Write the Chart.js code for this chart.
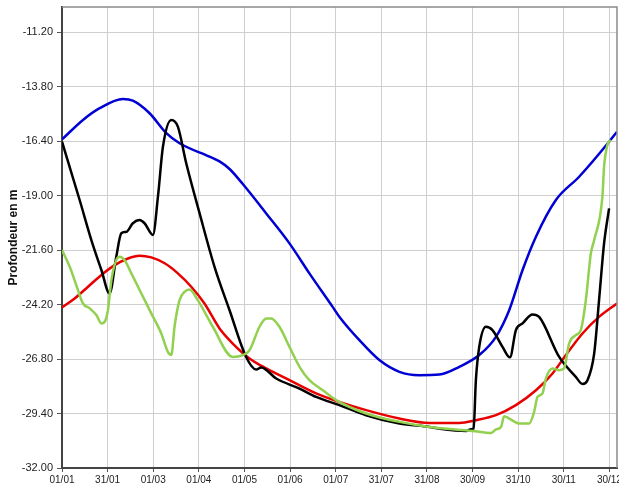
<!DOCTYPE html>
<html>
<head>
<meta charset="utf-8">
<script src="https://cdn.jsdelivr.net/npm/chart.js@4.4.0/dist/chart.umd.min.js"></script>
<style>
  body { margin: 0; background: #fff; }
  #wrap { width: 619px; height: 485px; }
</style>
</head>
<body>
<div id="wrap"><canvas id="lineChart"></canvas></div>
<script>
Chart.defaults.font.family = "'Liberation Sans', Arial, sans-serif";
Chart.defaults.color = '#222';

// x = day of year, y = depth in m
let xTickDays = [0, 30, 60, 90, 120, 150, 180, 210, 240, 270, 300, 330, 360]
let xTickLabels = ["01/01", "31/01", "01/03", "01/04", "01/05", "01/06", "01/07",
  "31/07", "31/08", "30/09", "31/10", "30/11", "30/12"]
let yTicks = [-32.00, -29.40, -26.80, -24.20, -21.60, -19.00, -16.40, -13.80, -11.20]

let blueDays = [0, 13.8, 24.8, 40.1, 46.6, 57.6, 68.6, 77.3, 97.0, 103.6, 110.2, 118.9, 134.3,
  149.6, 162.7, 178.0, 182.5, 195.6, 208.7, 221.9, 235.0, 248.1, 261.3, 274.4, 285.4,
  294.1, 302.9, 311.7, 324.8, 340.1, 359.8, 365]
let blueDepth = [-16.32, -15.39, -14.83, -14.39, -14.47, -15.07, -16.02, -16.50, -17.14,
  -17.37, -17.73, -18.45, -19.85, -21.28, -22.71, -24.31, -24.79, -25.90, -26.85, -27.41, -27.57,
  -27.54, -27.17, -26.61, -25.74, -24.47, -22.55, -20.96, -19.21, -18.10, -16.43, -15.95]

let blackDays = [0, 11.6, 19.3, 25.9, 31.3, 35.7, 39.0, 42.3, 46.6, 51.0, 54.3, 59.8, 63.1,
  66.4, 71.9, 76.2, 81.7, 90.5, 100.3, 110.2, 121.1, 127.7, 131.0, 140.9, 156.2, 167.1,
  182.4, 200.0, 221.9, 241.6, 248.1, 265.7, 269.0, 270.7, 272.2, 274.4, 278.8, 283.1,
  289.7, 294.6, 298.5, 302.9, 309.4, 313.8, 327.0, 337.9, 342.3, 345.6, 350.0, 353.2,
  356.5, 359.8]
let blackDepth = [-16.43, -19.21, -21.12, -22.55, -23.67, -21.92, -20.80, -20.73, -20.32,
  -20.17, -20.32, -20.88, -19.05, -16.66, -15.39, -15.71, -17.46, -19.85, -22.40, -24.47,
  -26.70, -27.30, -27.20, -27.73, -28.21, -28.61, -29.00, -29.48, -29.88, -30.04, -30.12,
  -30.23, -30.15, -30.12, -27.81, -26.22, -25.26, -25.42, -26.22, -26.72, -25.42, -25.10,
  -24.67, -24.79, -26.70, -27.65, -27.99, -27.81, -26.53, -23.99, -21.28, -19.61]

let greenDays = [0, 5.1, 10.5, 13.8, 18.2, 22.6, 25.9, 28.1, 30.2, 32.5, 35.7, 37.9, 41.2,
  45.6, 52.2, 58.7, 65.3, 69.6, 71.9, 74.0, 77.3, 80.6, 83.9, 89.3, 94.9, 99.2, 112.3,
  118.9, 123.3, 129.9, 134.3, 137.6, 143.0, 149.6, 156.2, 162.7, 171.5, 180.3, 200.0,
  221.9, 241.6, 270.0, 282.1, 285.4, 288.7, 290.8, 294.1, 300.7, 307.2, 310.5, 312.7,
  316.0, 318.2, 322.6, 327.0, 330.2, 333.5, 337.9, 341.2, 344.5, 347.8, 350.0, 355.4,
  356.5, 358.7, 360.9]
let greenDepth = [-21.60, -22.40, -23.51, -24.15, -24.38, -24.70, -25.10, -25.02, -24.47,
  -23.03, -22.08, -21.92, -22.08, -22.71, -23.67, -24.62, -25.58, -26.46, -26.61, -25.26,
  -23.99, -23.59, -23.48, -23.99, -24.70, -25.26, -26.70, -26.61, -26.38, -25.26, -24.86,
  -24.86, -25.26, -26.22, -27.17, -27.81, -28.29, -28.76, -29.40, -29.80, -30.04, -30.23,
  -30.33, -30.16, -30.04, -29.53, -29.64, -29.88, -29.88, -29.32, -28.61, -28.44, -27.73,
  -27.25, -27.33, -27.25, -26.06, -25.66, -25.42, -23.99, -21.76, -21.12, -19.05, -17.62,
  -16.58, -16.34]

let redDays = [0, 8.3, 17.1, 25.9, 34.6, 43.4, 51.0, 58.7, 67.5, 76.2, 85.0, 93.7, 103.6,
  112.3, 123.3, 134.3, 149.6, 167.1, 182.4, 200.0, 221.9, 241.6, 261.3, 272.2, 285.4,
  298.5, 311.7, 322.6, 331.4, 342.3, 353.2, 365]
let redDepth = [-24.34, -23.91, -23.35, -22.79, -22.32, -22.00, -21.87, -21.95, -22.23,
  -22.71, -23.35, -24.15, -25.34, -26.06, -26.77, -27.25, -27.81, -28.44, -28.85, -29.24,
  -29.64, -29.85, -29.85, -29.72, -29.48, -29.00, -28.29, -27.49, -26.61, -25.58, -24.79,
  -24.15]

function toPoints(days, depth) {
  let pts = []
  for (let i = 0; i < days.length; i++) {
    pts.push({x: days[i], y: depth[i]})
  }
  return pts
}

function makeSet(label, days, depth, color) {
  return {
    label: label,
    data: toPoints(days, depth),
    borderColor: color,
    borderWidth: 2.5,
    pointRadius: 0,
    showLine: true,
    cubicInterpolationMode: 'monotone',
    fill: false
  }
}

// top and right edges of the plot frame
const frame = {
  id: 'frame',
  afterDatasetsDraw(chart) {
    const a = chart.chartArea
    const c = chart.ctx
    c.save()
    c.strokeStyle = '#8a8a8a'
    c.lineWidth = 1.5
    c.beginPath()
    c.moveTo(a.left, a.top)
    c.lineTo(a.right, a.top)
    c.lineTo(a.right, a.bottom)
    c.stroke()
    c.restore()
  }
}

const ctx = document.getElementById('lineChart').getContext('2d')

var myChart = new Chart(ctx, {
  type: 'scatter',
  data: {
    datasets: [
      makeSet('Série 3', greenDays, greenDepth, '#92d050'),
      makeSet('Série 2', blackDays, blackDepth, '#000000'),
      makeSet('Série 4', redDays, redDepth, '#e80000'),
      makeSet('Série 1', blueDays, blueDepth, '#0000d4')
    ]
  },
  plugins: [frame],
  options: {
    responsive: true,
    maintainAspectRatio: false,
    animation: false,
    layout: {padding: {top: 7, right: 2, left: 0, bottom: 0}},
    plugins: {
      legend: {display: false},
      tooltip: {enabled: false}
    },
    scales: {
      x: {
        type: 'linear',
        min: 0,
        max: 365,
        afterBuildTicks: (scale) => {
          scale.ticks = xTickDays.map(v => ({value: v}))
        },
        afterFit: (scale) => {
          scale.height = 17
          scale.paddingLeft = 0
          scale.paddingRight = 0
        },
        ticks: {
          autoSkip: false,
          maxRotation: 0,
          padding: 2,
          font: {size: 10, family: "'Liberation Sans Narrow', 'Arial Narrow', 'Liberation Sans', sans-serif"},
          callback: (value, index) => xTickLabels[index]
        },
        grid: {color: '#cfcfcf', lineWidth: 1, tickLength: 4, tickColor: '#555'},
        border: {color: '#444', width: 2}
      },
      y: {
        type: 'linear',
        min: -32,
        max: -10,
        afterBuildTicks: (scale) => {
          scale.ticks = yTicks.map(v => ({value: v}))
        },
        afterFit: (scale) => {
          scale.width = 62
          scale.paddingTop = 0
          scale.paddingBottom = 0
        },
        ticks: {
          padding: 4,
          font: {size: 11},
          callback: (value) => value.toFixed(2)
        },
        title: {
          display: true,
          text: 'Profondeur en m',
          font: {size: 12, weight: 'bold'},
          color: '#111',
          padding: {top: 6, bottom: 0}
        },
        grid: {color: '#cfcfcf', lineWidth: 1, tickLength: 5, tickColor: '#555'},
        border: {color: '#444', width: 2}
      }
    }
  }
})
</script>
</body>
</html>
